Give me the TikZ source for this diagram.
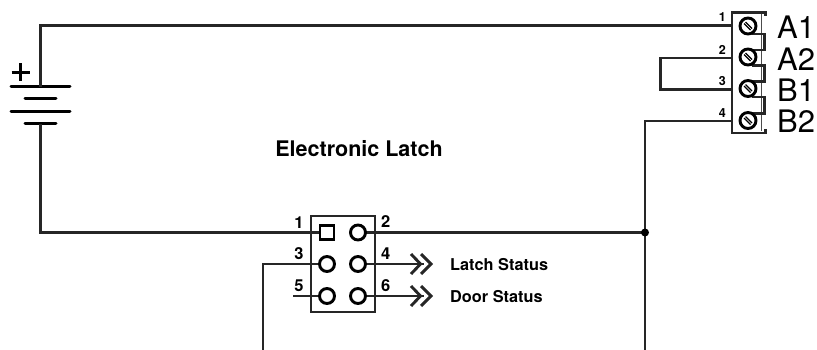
\documentclass[tikz,border=0pt]{standalone}
\usepackage{fontspec}
\setmainfont{TeX Gyre Heros}
\usetikzlibrary{positioning}
\tikzset{
  wire/.style={line width=2.9pt,draw=black!85},
  plate/.style={line width=3pt,line cap=round},
  pinring/.style={circle,draw,line width=2.9pt,fill=white,minimum size=15pt,inner sep=0pt,outer sep=0pt},
  pinsquare/.style={rectangle,draw,line width=2.9pt,fill=white,minimum size=14pt,inner sep=0pt,outer sep=0pt},
  screwring/.style={circle,draw,line width=2.9pt,fill=white,minimum size=16pt,inner sep=0pt,outer sep=0pt},
  pinnum/.style={font=\bfseries\fontsize{16.5}{16.5}\selectfont,inner sep=0pt},
  termnum/.style={font=\bfseries\fontsize{12.5}{12.5}\selectfont,inner sep=0pt},
  termname/.style={font=\fontsize{31}{31}\selectfont,inner sep=0pt,anchor=west},
  statuslabel/.style={font=\bfseries\fontsize{16.3}{16.3}\selectfont,inner sep=0pt,anchor=west},
}
\begin{document}
\begin{tikzpicture}[x=1pt,y=-1pt]
      \useasboundingbox (0,0) rectangle (817,350);
      % battery
      \coordinate (battop) at (40.5,87);
      \coordinate (batbot) at (40.5,124);
      \draw[plate] (11,87) -- (70,87);
      \draw[plate] (25,99) -- (56,99);
      \draw[plate] (11,112) -- (70,112);
      \draw[plate] (25,124) -- (56,124);
      \draw[line width=2.2pt] (11.5,72.5) -- (29.5,72.5) (20.5,63.5) -- (20.5,81.5);
      % terminal block
      \draw[line width=.8pt,black!70] (761,14) -- (761,131);
      \draw[wire] (765.5,16) -- (765.5,12.5) -- (732,12.5) -- (732,133) -- (765.5,133) -- (765.5,129.5);
      \draw[wire] (752,34) -- (764.5,34) -- (764.5,50) -- (752,50);
      \draw[wire] (752,65.5) -- (764.5,65.5) -- (764.5,81.5) -- (752,81.5);
      \draw[wire] (752,97) -- (764.5,97) -- (764.5,113.5) -- (752,113.5);
      \node[screwring] (s1) at (748,26) {};
      \node[screwring] (s2) at (748,57) {};
      \node[screwring] (s3) at (748,88.5) {};
      \node[screwring] (s4) at (748,120.5) {};
      \foreach \n in {1,2,3,4} {
        \draw[line width=1.1pt] ([shift={(-4,-2.5)}]s\n.center) -- ([shift={(2.5,4)}]s\n.center);
        \draw[line width=1.1pt] ([shift={(-2.5,-4)}]s\n.center) -- ([shift={(4,2.5)}]s\n.center);
      }
      \node[termnum] (t1) at (722.3,17.5) {1};
      \node[termnum] (t2) at (722.3,49.5) {2};
      \node[termnum] (t3) at (722.3,81) {3};
      \node[termnum] (t4) at (722.3,113.5) {4};
      \node[termname] (a1) at (777,27) {A1};
      \node[termname] (a2) at (777,59) {A2};
      \node[termname] (b1) at (777,90) {B1};
      \node[termname] (b2) at (777,121) {B2};
      % header
      \draw[wire] (311,216) rectangle (375,312);
      \coordinate (j1) at (645,232.5);
      \coordinate (c5) at (293,296);
      \coordinate (a4) at (424,264);
      \coordinate (a6) at (424,296);
      \coordinate (end3) at (263,350);
      \coordinate (end4) at (645,350);
      % wires
      \draw[wire] (battop) -- (40.5,25.5) -- (732,25.5);
      \draw[wire] (batbot) -- (40.5,232.5) -- (320,232.5);
      \draw[wire] (732,58) -- (660.5,58) -- (660.5,89.5) -- (732,89.5);
      \draw[wire] (732,121) -- (645,121) -- (j1);
      \draw[wire] (358,232.5) -- (j1) -- (end4);
      \draw[wire] (end3) -- (263,264) -- (327,264);
      \draw[wire] (c5) -- (327,296);
      \draw[wire] (358,264) -- (a4);
      \draw[wire] (358,296) -- (a6);
      \node[pinsquare] (p1) at (327,232.5) {};
      \node[pinring] (p2) at (358,232.5) {};
      \node[pinring] (p3) at (327,264) {};
      \node[pinring] (p4) at (358,264) {};
      \node[pinring] (p5) at (327,296) {};
      \node[pinring] (p6) at (358,296) {};
      \node[pinnum] (n1) at (299,222.5) {1};
      \node[pinnum] (n2) at (385.7,222) {2};
      \node[pinnum] (n3) at (299,254) {3};
      \node[pinnum] (n4) at (385.7,254) {4};
      \node[pinnum] (n5) at (299,286) {5};
      \node[pinnum] (n6) at (385.7,286) {6};
      \foreach \t in {a4,a6} {
        \draw[wire] ([shift={(-13,-10)}]\t) -- ([shift={(-3.5,0)}]\t) -- ([shift={(-13,10)}]\t);
        \draw[wire] ([shift={(-3,-10)}]\t) -- ([shift={(7,0)}]\t) -- ([shift={(-3,10)}]\t);
      }
      \fill (j1) circle (4);
      \node[statuslabel] (ls) at (450,264.5) {Latch Status};
      \node[statuslabel] (ds) at (450,297) {Door Status};
      \node[font=\bfseries\fontsize{21.5}{21.5}\selectfont,inner sep=0pt] (title) at (359,149) {Electronic Latch};
\end{tikzpicture}
\end{document}
